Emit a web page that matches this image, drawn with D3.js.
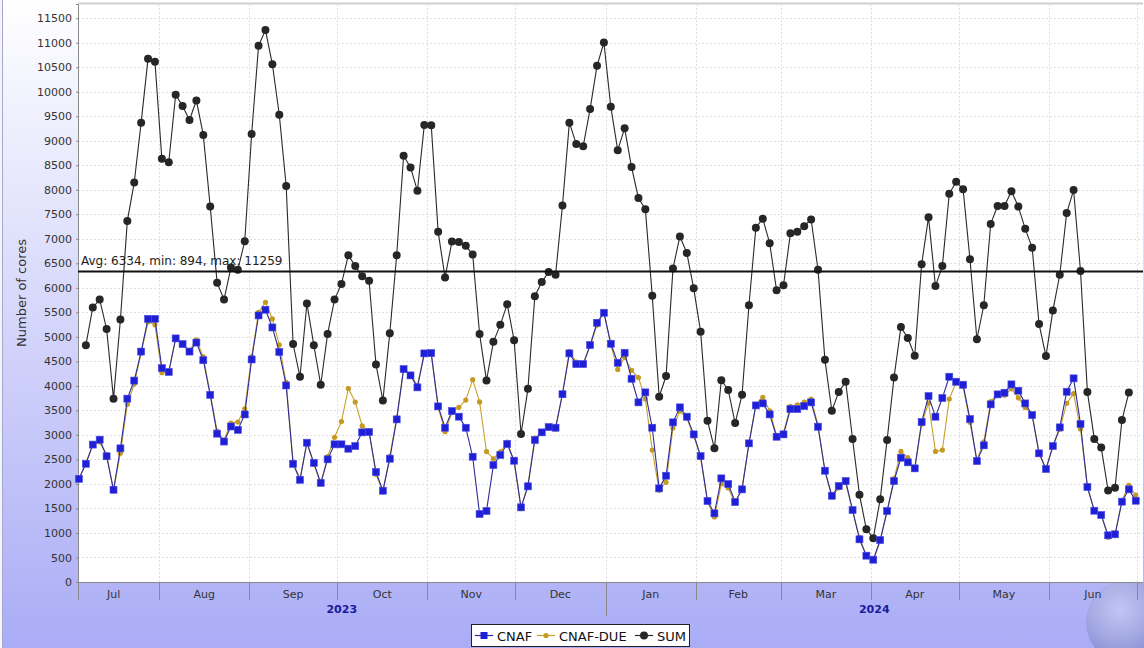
<!DOCTYPE html>
<html>
<head>
<meta charset="utf-8">
<script src="https://cdn.jsdelivr.net/npm/d3@7"></script>
<style>
  body { margin: 0; background: #fff; }
  svg { display: block; font-family: "DejaVu Sans", sans-serif; }
</style>
</head>
<body>
<svg id="chart" width="1144" height="648"></svg>
<script>
// sample times: first sample and spacing between samples
const firstSample = Date.UTC(2023, 6, 4, 14);
const sampleHours = 56.8;

// Number of cores per sample
const cnaf = [
  2104, 2412, 2803, 2903, 2565, 1882, 2726, 3740, 4109, 4700,
  5368, 5368, 4362, 4285, 4969, 4854, 4700, 4884, 4524, 3817,
  3026, 2865, 3172, 3103, 3418, 4539, 5437, 5553, 5192, 4692,
  4009, 2410, 2085, 2841, 2430, 2022, 2502, 2808, 2808, 2719,
  2773, 3052, 3059, 2243, 1862, 2515, 3317, 4343, 4214, 3970,
  4663, 4670, 3582, 3147, 3487, 3372, 3147, 2555, 1387, 1448,
  2386, 2590, 2814, 2474, 1523, 1951, 2896, 3052, 3161, 3147,
  3830, 4663, 4445, 4445, 4833, 5288, 5492, 4860, 4472, 4676,
  4146, 3664, 3868, 3147, 1910, 2168, 3256, 3562, 3372, 3011,
  2569, 1652, 1400, 2114, 1998, 1631, 1889, 2828, 3602, 3643,
  3419, 2963, 3011, 3528, 3528, 3589, 3664, 3167, 2270, 1760,
  1958, 2060, 1468, 870, 537, 455, 856, 1448, 2060, 2535,
  2441, 2318, 3263, 3793, 3372, 3752, 4187, 4085, 4024, 3324,
  2467, 2787, 3623, 3827, 3861, 4031, 3902, 3643, 3405, 2624,
  2304, 2773, 3154, 3881, 4154, 3222, 1937, 1454, 1366, 952,
  973, 1638, 1890, 1658
];

const cnafDue = [
  2104, 2419, 2796, 2857, 2596, 1858, 2627, 3625, 4039, 4670,
  5307, 5246, 4270, 4278, 4969, 4854, 4723, 4939, 4592, 3840,
  3080, 2895, 3241, 3264, 3532, 4600, 5499, 5706, 5368, 4839,
  4070, 2444, 2101, 2842, 2401, 2002, 2559, 2952, 3272, 3947,
  3671, 3184, 3085, 2196, 1840, 2561, 3349, 4351, 4242, 4010,
  4661, 4646, 3560, 3066, 3456, 3563, 3711, 4127, 3674, 2661,
  2514, 2655, 2854, 2457, 1495, 1989, 2933, 3069, 3160, 3120,
  3850, 4707, 4487, 4441, 4813, 5241, 5513, 4832, 4337, 4578,
  4317, 4170, 3735, 2690, 1869, 2033, 3141, 3488, 3340, 2979,
  2538, 1635, 1326, 2002, 1919, 1610, 1928, 2817, 3625, 3768,
  3493, 2989, 3041, 3584, 3614, 3669, 3732, 3200, 2261, 1734,
  1920, 2026, 1450, 912, 538, 439, 834, 1447, 2110, 2664,
  2536, 2298, 3219, 3649, 2664, 2692, 3731, 4079, 3986, 3258,
  2487, 2858, 3681, 3845, 3811, 3941, 3755, 3561, 3415, 2637,
  2304, 2764, 3113, 3645, 3841, 3122, 1941, 1464, 1376, 914,
  947, 1664, 1973, 1774
];

const sum = [
  null, 4831, 5599, 5760, 5161, 3740, 5353, 7365, 8148, 9370,
  10675, 10614, 8632, 8563, 9938, 9708, 9423, 9823, 9116, 7657,
  6106, 5760, 6413, 6367, 6950, 9139, 10936, 11259, 10560, 9531,
  8079, 4854, 4186, 5683, 4831, 4024, 5061, 5760, 6080, 6666,
  6444, 6236, 6144, 4439, 3702, 5076, 6666, 8694, 8456, 7980,
  9324, 9316, 7142, 6213, 6943, 6935, 6858, 6682, 5061, 4109,
  4900, 5245, 5668, 4931, 3018, 3940, 5829, 6121, 6321, 6267,
  7680, 9370, 8932, 8886, 9646, 10529, 11005, 9692, 8809, 9254,
  8463, 7834, 7603, 5837, 3779, 4201, 6397, 7050, 6712, 5990,
  5107, 3287, 2726, 4116, 3917, 3241, 3817, 5645, 7227, 7411,
  6912, 5952, 6052, 7112, 7142, 7258, 7396, 6367, 4531, 3494,
  3878, 4086, 2918, 1782, 1075, 894, 1690, 2895, 4170, 5199,
  4977, 4616, 6482, 7442, 6036, 6444, 7918, 8164, 8010, 6582,
  4954, 5645, 7304, 7672, 7672, 7972, 7657, 7204, 6820, 5261,
  4608, 5537, 6267, 7526, 7995, 6344, 3878, 2918, 2742, 1866,
  1920, 3302, 3863, null
];

// summary line of the SUM series
const avgValue = 6334;
const minValue = 894;
const maxValue = 11259;

const yTickValues = d3.range(0, 11501, 500);
const seriesNames = ["CNAF", "CNAF-DUE", "SUM"];

const svg = d3.select("#chart");
const W = 1144, H = 648;
const plot = { left: 78, right: 1143, top: 4, bottom: 582 };

const x = d3.scaleUtc()
  .domain([new Date(Date.UTC(2023, 6, 4, 6)), new Date(Date.UTC(2024, 6, 3, 4))])
  .range([plot.left, plot.right]);
const y = d3.scaleLinear().domain([0, 11790]).range([plot.bottom, plot.top]);

const dates = cnaf.map((d, i) => new Date(firstSample + i * sampleHours * 3600e3));

// background gradient
const defs = svg.append("defs");
const bg = defs.append("linearGradient").attr("id", "bg")
  .attr("x1", 0).attr("y1", 0).attr("x2", 0).attr("y2", 1);
bg.append("stop").attr("offset", "0%").attr("stop-color", "#ffffff");
bg.append("stop").attr("offset", "100%").attr("stop-color", "#aaacf6");

const globe = defs.append("radialGradient").attr("id", "globe")
  .attr("cx", "40%").attr("cy", "35%").attr("r", "65%");
globe.append("stop").attr("offset", "0%").attr("stop-color", "#d6daf0");
globe.append("stop").attr("offset", "55%").attr("stop-color", "#9aa3cf");
globe.append("stop").attr("offset", "100%").attr("stop-color", "#5e68a8");

svg.append("rect").attr("width", W).attr("height", H).attr("fill", "#f4f4ff");
svg.append("rect").attr("x", 3).attr("width", W - 3).attr("height", H).attr("fill", "url(#bg)");
svg.append("line").attr("x1", 2.5).attr("x2", 2.5).attr("y1", 0).attr("y2", H)
  .attr("stroke", "#a6a8cc").attr("stroke-width", 1);

// decorative globe
svg.append("circle").attr("cx", 1128).attr("cy", 622).attr("r", 42)
  .attr("fill", "url(#globe)").attr("opacity", 0.5);

// plot area
svg.append("rect")
  .attr("x", plot.left).attr("y", plot.top)
  .attr("width", plot.right - plot.left).attr("height", plot.bottom - plot.top)
  .attr("fill", "#fff");
svg.append("line").attr("x1", plot.left).attr("x2", plot.right)
  .attr("y1", plot.top - 0.5).attr("y2", plot.top - 0.5)
  .attr("stroke", "#d0d0d0").attr("stroke-width", 2);

const monthStarts = d3.utcMonth.range(x.domain()[0], x.domain()[1]);

// grid
const grid = svg.append("g").attr("stroke", "#e0e0e0").attr("stroke-dasharray", "2,2");
grid.selectAll("line.h").data(yTickValues.filter(v => v > 0)).join("line")
  .attr("x1", plot.left).attr("x2", plot.right)
  .attr("y1", d => Math.round(y(d)) + 0.5).attr("y2", d => Math.round(y(d)) + 0.5);
grid.selectAll("line.v").data(monthStarts).join("line")
  .attr("y1", plot.top).attr("y2", plot.bottom)
  .attr("x1", d => Math.round(x(d)) + 0.5).attr("x2", d => Math.round(x(d)) + 0.5);

// y axis
const yAxis = svg.append("g").attr("transform", `translate(${plot.left},0)`)
  .call(d3.axisLeft(y).tickValues(yTickValues).tickFormat(d3.format("d")).tickSize(2).tickPadding(4));
yAxis.select(".domain").attr("stroke", "#8a8a8a");
yAxis.selectAll(".tick line").attr("stroke", "#8a8a8a");
yAxis.selectAll("text").attr("font-size", 11).attr("fill", "#333")
  .attr("font-family", "DejaVu Sans");

svg.append("text")
  .attr("transform", `translate(26,${(plot.top + plot.bottom) / 2}) rotate(-90)`)
  .attr("text-anchor", "middle").attr("font-size", 13).attr("fill", "#333")
  .text("Number of cores");

// x axis: months band and year band
svg.append("line").attr("x1", plot.left).attr("x2", plot.right)
  .attr("y1", plot.bottom + 0.5).attr("y2", plot.bottom + 0.5)
  .attr("stroke", "#8a8a8a");
svg.append("line").attr("x1", plot.left + 0.5).attr("x2", plot.left + 0.5)
  .attr("y1", plot.bottom).attr("y2", 600).attr("stroke", "#8a8a8a");

svg.append("g").selectAll("line").data(monthStarts).join("line")
  .attr("x1", d => Math.round(x(d)) + 0.5).attr("x2", d => Math.round(x(d)) + 0.5)
  .attr("y1", plot.bottom)
  .attr("y2", d => d.getUTCMonth() === 0 ? 616 : 600)
  .attr("stroke", "#8a8a8a");

const monthFmt = d3.utcFormat("%b");
const labelMonths = d3.utcMonth.range(d3.utcMonth.floor(x.domain()[0]), x.domain()[1])
  .map(m => ({ m, mid: new Date((+m + +d3.utcMonth.offset(m, 1)) / 2) }))
  .filter(d => d.mid <= x.domain()[1]);
svg.append("g").selectAll("text").data(labelMonths).join("text")
  .attr("x", d => x(d.mid)).attr("y", 598)
  .attr("text-anchor", "middle").attr("font-size", 11).attr("fill", "#333")
  .text(d => monthFmt(d.m));

const years = [2023, 2024].map(yr => {
  const a = Math.max(+x.domain()[0], Date.UTC(yr, 0, 1));
  const b = Math.min(+x.domain()[1], Date.UTC(yr + 1, 0, 1));
  return { yr, c: (x(a) + x(b)) / 2 };
});
svg.append("g").selectAll("text").data(years).join("text")
  .attr("x", d => d.c).attr("y", 613)
  .attr("text-anchor", "middle").attr("font-size", 11).attr("font-weight", "bold")
  .attr("fill", "#1a1a9c")
  .text(d => d.yr);

// series
const pts = arr => arr.map((v, i) => ({ t: dates[i], v }));
const line = d3.line().defined(d => d.v != null).x(d => x(d.t)).y(d => y(d.v));

const gSeries = svg.append("g");

const sumPts = pts(sum);
gSeries.append("path").attr("d", line(sumPts)).attr("fill", "none")
  .attr("stroke", "#2a2a2a").attr("stroke-width", 1.1);
gSeries.append("g").selectAll("circle").data(sumPts.filter(d => d.v != null)).join("circle")
  .attr("cx", d => x(d.t)).attr("cy", d => y(d.v)).attr("r", 4)
  .attr("fill", "#262626");

const duePts = pts(cnafDue);
gSeries.append("path").attr("d", line(duePts)).attr("fill", "none")
  .attr("stroke", "#c9a22c").attr("stroke-width", 1.1);
gSeries.append("g").selectAll("circle").data(duePts).join("circle")
  .attr("cx", d => x(d.t)).attr("cy", d => y(d.v)).attr("r", 2.6)
  .attr("fill", "#c49a22");

const cnafPts = pts(cnaf);
gSeries.append("path").attr("d", line(cnafPts)).attr("fill", "none")
  .attr("stroke", "#2c2c9a").attr("stroke-width", 1.1);
gSeries.append("g").selectAll("rect").data(cnafPts).join("rect")
  .attr("x", d => x(d.t) - 3.5).attr("y", d => y(d.v) - 3.5)
  .attr("width", 7).attr("height", 7)
  .attr("fill", "#1f1fd6").attr("stroke", "#4a4ae8").attr("stroke-width", 0.6);

// average marker
svg.append("line").attr("x1", plot.left).attr("x2", plot.right)
  .attr("y1", y(avgValue)).attr("y2", y(avgValue))
  .attr("stroke", "#111").attr("stroke-width", 2);
svg.append("text").attr("x", plot.left + 3).attr("y", y(avgValue) - 6)
  .attr("font-size", 12).attr("fill", "#222")
  .text(`Avg: ${avgValue}, min: ${minValue}, max: ${maxValue}`);

// legend
const legend = svg.append("g");
legend.append("rect").attr("x", 471.5).attr("y", 624.5).attr("width", 218).attr("height", 22)
  .attr("fill", "#fff").attr("stroke", "#222");
const legendItems = [
  { name: seriesNames[0], x0: 475, color: "#2c2c9a", mark: "square", fill: "#1f1fd6" },
  { name: seriesNames[1], x0: 537, color: "#c9a22c", mark: "dot", fill: "#c49a22" },
  { name: seriesNames[2], x0: 635, color: "#2a2a2a", mark: "big", fill: "#262626" }
];
const li = legend.selectAll("g.item").data(legendItems).join("g")
  .attr("transform", d => `translate(${d.x0},635.5)`);
li.append("line").attr("x1", 0).attr("x2", 18).attr("stroke", d => d.color).attr("stroke-width", 1.2);
li.filter(d => d.mark === "square").append("rect")
  .attr("x", 5.5).attr("y", -3.5).attr("width", 7).attr("height", 7).attr("fill", d => d.fill);
li.filter(d => d.mark === "dot").append("circle").attr("cx", 9).attr("r", 2.6).attr("fill", d => d.fill);
li.filter(d => d.mark === "big").append("circle").attr("cx", 9).attr("r", 4).attr("fill", d => d.fill);
li.append("text").attr("x", 22).attr("y", 5).attr("font-size", 13).attr("fill", "#111")
  .text(d => d.name);
</script>
</body>
</html>
